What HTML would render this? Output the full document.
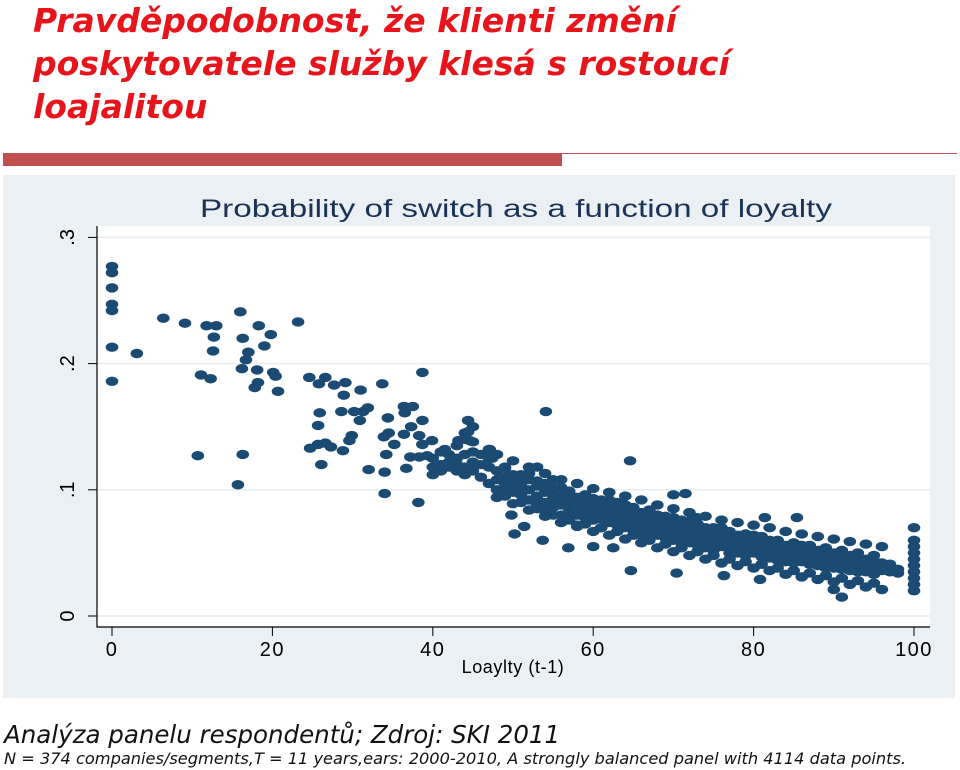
<!DOCTYPE html>
<html><head><meta charset="utf-8"><style>
body{margin:0;width:960px;height:770px;background:#fff;overflow:hidden;font-family:"Liberation Sans",sans-serif;position:relative}
.t{position:absolute;left:33px;top:-1px;color:#e8141c;font:italic bold 33px/43px "DejaVu Sans",sans-serif;margin:0;white-space:nowrap}
.f1{position:absolute;left:4px;top:720px;font:italic 24.5px "DejaVu Sans",sans-serif;color:#111;white-space:nowrap}
.f2{position:absolute;left:4px;top:749px;font:italic 16.2px "DejaVu Sans",sans-serif;color:#111;white-space:nowrap}
</style></head><body>
<h1 class="t">Pravděpodobnost, že klienti změní<br>poskytovatele služby klesá s rostoucí<br>loajalitou</h1>
<div style="position:absolute;left:3px;top:153px;width:559px;height:13px;background:#c0504d"></div>
<div style="position:absolute;left:562px;top:153px;width:395px;height:1px;background:#c0504d"></div>
<svg id="chart" style="position:absolute;left:0;top:0" width="960" height="770"></svg>
<div class="f1">Analýza panelu respondentů; Zdroj: SKI 2011</div>
<div class="f2">N = 374 companies/segments,T = 11 years,ears: 2000-2010, A strongly balanced panel with 4114 data points.</div>
<script>
const xTicks=[0,20,40,60,80,100];
const yTicks=[0,0.1,0.2,0.3];
const yTickLabels=["0",".1",".2",".3"];
const sparseX=[0,0,0,0,0,0,0,3.1,6.4,9.1,11.8,13,12.7,12.6,11.1,12.3,16,16.3,17,16.7,18.3,19,19.8,20.1,20.4,18.1,16.2,18.2,17.8,20.7,23.2,24.6,26.6,25.8,27.7,29.1,31,33.7,28.9,30.2,31.3,31.9,28.6,25.9,25.7,30.9,34.4,36.4,37.5,38.7,36.5,34.5,33.9,29.9,38.3,37.3,36.4,35.2,24.7,25.7,26.6,27.3,28.8,29.6,26.1,10.7,16.3,15.7,34.2,34,32,37.2,36.7,38.3,34,38.2,38.7,39.3,38.7,44.4,44.4,44.6,43.2,47.1,47.4,39.9,41.5,54.1,64.6,64.7,70.4,76.3,80.8,84.9,90,91,72.9,70,71.5,81.4,85.4,49.8,50.2,51.4,53.7,56.9,60,62.5];
const sparseY=[.277,.272,.26,.247,.242,.213,.186,.208,.236,.232,.23,.23,.221,.21,.191,.188,.241,.22,.209,.203,.23,.214,.223,.193,.19,.195,.196,.185,.181,.178,.233,.189,.189,.184,.183,.185,.179,.184,.175,.162,.162,.165,.162,.161,.151,.155,.157,.166,.166,.155,.161,.145,.142,.143,.143,.15,.144,.136,.133,.136,.137,.134,.131,.139,.12,.127,.128,.104,.128,.114,.116,.126,.117,.126,.097,.09,.136,.127,.193,.155,.146,.139,.139,.132,.125,.139,.132,.162,.123,.036,.034,.032,.029,.051,.021,.015,.078,.096,.097,.078,.078,.08,.065,.071,.06,.054,.055,.054];
const bandX=[40,40,40,41,41,41,42,42,42,43,43,43,43,44,44,44,44,44,45,45,45,45,45,46,46,46,47,47,47,47,48,48,48,49,49,49,49,50,50,50,50,51,51,51,51,52,52,52,52,53,53,53,53,54,54,54,54,55,55,55,55,56,56,56,56,57,57,57,57,58,58,58,58,59,59,59,59,60,60,60,60,61,61,61,61,62,62,62,62,63,63,63,63,64,64,64,64,65,65,65,65,66,66,66,66,67,67,67,67,68,68,68,68,69,69,69,69,70,70,70,70,71,71,71,71,72,72,72,72,73,73,73,73,74,74,74,74,75,75,75,75,76,76,76,76,77,77,77,77,78,78,78,78,79,79,79,79,80,80,80,80,81,81,81,81,82,82,82,82,83,83,83,83,84,84,84,84,85,85,85,85,86,86,86,86,87,87,87,87,88,88,88,88,89,89,89,89,90,90,90,90,91,91,91,91,92,92,92,92,93,93,93,93,94,94,94,94,95,95,95,95,96,96,96,97,97,97,98,98,100,100,100,100,100,100,100,100,100,100];
const bandY=[.118,.125,.112,.115,.13,.12,.118,.122,.128,.125,.115,.135,.12,.14,.128,.118,.112,.145,.13,.122,.115,.15,.138,.12,.11,.128,.118,.105,.125,.132,.108,.115,.1,.11,.104,.098,.118,.105,.112,.098,.1,.104,.096,.11,.1,.1,.108,.092,.113,.103,.095,.088,.118,.098,.09,.105,.083,.1,.093,.086,.108,.095,.088,.08,.102,.092,.085,.098,.078,.094,.087,.08,.072,.09,.084,.078,.096,.088,.082,.076,.093,.09,.083,.077,.07,.086,.08,.092,.074,.085,.078,.072,.09,.082,.076,.07,.088,.08,.074,.068,.085,.082,.076,.07,.064,.078,.072,.066,.084,.076,.07,.064,.08,.074,.068,.062,.078,.072,.066,.06,.078,.074,.068,.062,.058,.07,.064,.058,.075,.068,.062,.056,.072,.066,.06,.054,.07,.064,.058,.068,.052,.065,.06,.055,.07,.062,.056,.05,.066,.06,.055,.064,.05,.058,.053,.062,.048,.06,.055,.05,.064,.057,.052,.047,.062,.055,.05,.06,.046,.054,.049,.058,.044,.052,.047,.056,.043,.05,.046,.055,.042,.052,.047,.043,.056,.05,.045,.041,.054,.048,.044,.052,.04,.047,.043,.05,.038,.046,.042,.05,.038,.045,.041,.048,.037,.044,.04,.036,.048,.043,.039,.046,.035,.042,.038,.035,.045,.04,.037,.044,.033,.039,.036,.042,.038,.035,.041,.037,.034,.07,.06,.055,.05,.045,.04,.035,.03,.025,.02];
const bandX2=[48,48,49,49,50,50,51,51,52,52,53,53,54,54,55,55,56,56,57,57,58,58,59,59,60,60,61,61,62,62,63,63,64,64,65,65,66,66,67,67,68,68,69,69,70,70,71,71,72,72,73,73,74,74,75,75,76,76,77,77,78,78,79,79,80,80,81,81,82,82,83,83,84,84,85,85,86,86,87,87,88,88,89,89,90,90,91,91,92,92,93,93,94,94,95,95,96,96];
const bandY2=[.128,.094,.117,.095,.123,.089,.112,.09,.118,.084,.107,.085,.113,.079,.102,.08,.108,.074,.099,.076,.105,.071,.095,.073,.101,.067,.092,.07,.098,.064,.089,.067,.095,.061,.086,.064,.092,.058,.082,.06,.088,.054,.079,.057,.085,.051,.076,.054,.082,.048,.073,.051,.079,.045,.07,.048,.076,.042,.067,.045,.074,.04,.065,.043,.072,.038,.063,.041,.07,.036,.06,.038,.067,.033,.058,.036,.065,.031,.056,.034,.063,.029,.054,.032,.061,.027,.052,.03,.059,.025,.05,.028,.057,.023,.048,.026,.055,.021];
const NS="http://www.w3.org/2000/svg";
const svg=document.getElementById('chart');
const X=v=>112+v*8.02;
const Y=v=>616-v*1262;
function mk(t,a,p){const e=document.createElementNS(NS,t);for(const k in a)e.setAttribute(k,a[k]);(p||svg).appendChild(e);return e;}
const bg=mk('rect',{x:3,y:175,width:952,height:523,fill:'#eaf0f3'});


const pa=mk('rect',{x:97,y:226,width:833,height:401,fill:'#fff'});


const ct=mk('text',{x:200,y:217,'font-size':25,fill:'#1a3356',textLength:632,lengthAdjust:'spacingAndGlyphs','font-family':'Liberation Sans, sans-serif'});
ct.textContent='Probability of switch as a function of loyalty';


yTicks.forEach((v,i)=>{
 const g=mk('line',{x1:97,x2:930,y1:Y(v),y2:Y(v),stroke:'#e6ecef','stroke-width':1.5});
 
 
 const tk=mk('line',{x1:88,x2:97,y1:Y(v),y2:Y(v),stroke:'#000'});
 
 
 const t=mk('text',{x:0,y:0,transform:`translate(74,${Y(v)}) rotate(-90)`,'text-anchor':'middle','font-size':20,fill:'#000'});
 t.textContent=yTickLabels[i];
 
 
});
xTicks.forEach(v=>{
 const tk=mk('line',{x1:X(v),x2:X(v),y1:627,y2:636,stroke:'#000'});
 
 
 const t=mk('text',{x:X(v),y:656,'text-anchor':'middle','font-size':20,'letter-spacing':1.5,fill:'#000'});
 t.textContent=String(v);
 
 
});
const ax=mk('path',{d:'M97,226 V627 H930',fill:'none',stroke:'#000','stroke-width':1.2});


const xt=mk('text',{x:513,y:673,'text-anchor':'middle','font-size':18,'letter-spacing':0.6,fill:'#000'});
xt.textContent='Loaylty (t-1)';


const g=mk('g',{fill:'#1b4a72'});


function pts(xs,ys){xs.forEach((v,i)=>{
 const e=mk('ellipse',{cx:X(v),cy:Y(ys[i]),rx:6.3,ry:4.7},g);
 
 
});}
pts(sparseX,sparseY);
pts(bandX,bandY);
pts(bandX2,bandY2);
</script>
</body></html>
